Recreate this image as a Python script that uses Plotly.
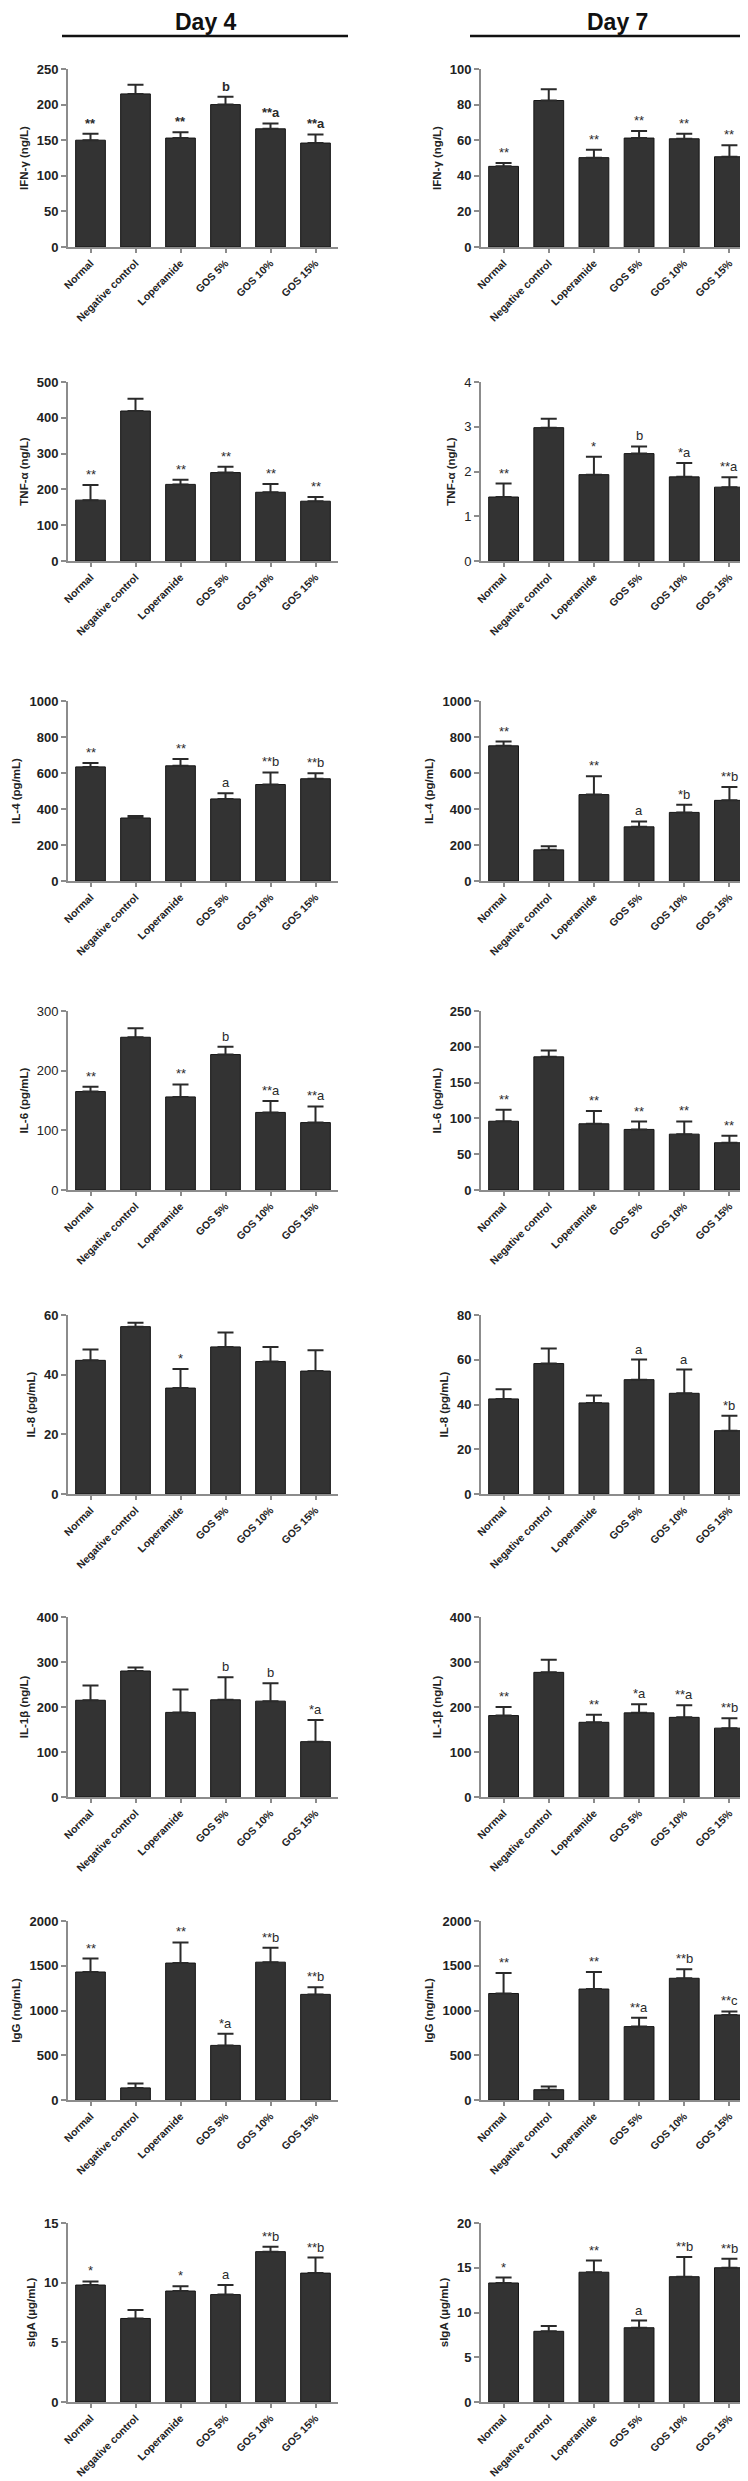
import plotly.graph_objects as go

categories = ["Normal", "Negative control", "Loperamide", "GOS 5%", "GOS 10%", "GOS 15%"]

# ---- Day 4 ----
ifn_d4 = [150, 215, 153, 200, 166, 146]
ifn_d4_err = [9, 13, 8, 11, 7.5, 12]
ifn_d4_sig = ["**", "", "**", "b", "**a", "**a"]

tnf_d4 = [170, 419, 214, 247, 192, 167]
tnf_d4_err = [42, 34, 13, 16, 23, 12]
tnf_d4_sig = ["**", "", "**", "**", "**", "**"]

il4_d4 = [634, 350, 640, 456, 536, 568]
il4_d4_err = [22, 11, 38, 31, 67, 31]
il4_d4_sig = ["**", "", "**", "a", "**b", "**b"]

il6_d4 = [165, 256, 156, 227, 130, 113]
il6_d4_err = [8, 15, 21, 13, 19, 27]
il6_d4_sig = ["**", "", "**", "b", "**a", "**a"]

il8_d4 = [44.8, 56.1, 35.5, 49.3, 44.4, 41.2]
il8_d4_err = [3.6, 1.3, 6.4, 4.8, 4.9, 7.0]
il8_d4_sig = ["", "", "*", "", "", ""]

il1b_d4 = [215, 280, 188, 216, 213, 123]
il1b_d4_err = [33, 8, 51, 50, 40, 48]
il1b_d4_sig = ["", "", "", "b", "b", "*a"]

igg_d4 = [1430, 135, 1530, 610, 1540, 1180]
igg_d4_err = [150, 50, 230, 130, 160, 80]
igg_d4_sig = ["**", "", "**", "*a", "**b", "**b"]

siga_d4 = [9.8, 7.0, 9.3, 9.0, 12.6, 10.8]
siga_d4_err = [0.3, 0.7, 0.4, 0.8, 0.4, 1.3]
siga_d4_sig = ["*", "", "*", "a", "**b", "**b"]

# ---- Day 7 ----
ifn_d7 = [45.3, 82.3, 50.2, 61.2, 60.8, 50.7]
ifn_d7_err = [1.9, 6.3, 4.5, 3.9, 2.8, 6.4]
ifn_d7_sig = ["**", "", "**", "**", "**", "**"]

tnf_d7 = [1.43, 2.98, 1.93, 2.40, 1.88, 1.65]
tnf_d7_err = [0.30, 0.20, 0.40, 0.16, 0.31, 0.22]
tnf_d7_sig = ["**", "", "*", "b", "*a", "**a"]

il4_d7 = [751, 173, 480, 301, 381, 448]
il4_d7_err = [24, 20, 102, 30, 43, 74]
il4_d7_sig = ["**", "", "**", "a", "*b", "**b"]

il6_d7 = [96, 186, 92.5, 84.6, 78, 66]
il6_d7_err = [16, 9, 17.7, 11, 17.7, 9.8]
il6_d7_sig = ["**", "", "**", "**", "**", "**"]

il8_d7 = [42.5, 58.3, 40.7, 51.1, 45.0, 28.3]
il8_d7_err = [4.3, 6.7, 3.3, 9.0, 10.6, 6.7]
il8_d7_sig = ["", "", "", "a", "a", "*b"]

il1b_d7 = [181, 277, 166, 187, 177, 153]
il1b_d7_err = [19, 28, 17, 19, 27, 22]
il1b_d7_sig = ["**", "", "**", "*a", "**a", "**b"]

igg_d7 = [1190, 115, 1240, 820, 1360, 950]
igg_d7_err = [230, 35, 190, 100, 100, 40]
igg_d7_sig = ["**", "", "**", "**a", "**b", "**c"]

siga_d7 = [13.3, 7.9, 14.5, 8.3, 14.0, 15.0]
siga_d7_err = [0.6, 0.6, 1.3, 0.8, 2.2, 1.0]
siga_d7_sig = ["*", "", "**", "a", "**b", "**b"]

y_titles = ["IFN-γ (ng/L)", "TNF-α (ng/L)", "IL-4 (pg/mL)", "IL-6 (pg/mL)",
            "IL-8 (pg/mL)", "IL-1β (ng/L)", "IgG (ng/mL)", "sIgA (µg/mL)"]
day_titles = ["Day 4", "Day 7"]

# (values, errors, significance, y max, tick step)
panels = [
    [(ifn_d4, ifn_d4_err, ifn_d4_sig, 250, 50), (ifn_d7, ifn_d7_err, ifn_d7_sig, 100, 20)],
    [(tnf_d4, tnf_d4_err, tnf_d4_sig, 500, 100), (tnf_d7, tnf_d7_err, tnf_d7_sig, 4, 1)],
    [(il4_d4, il4_d4_err, il4_d4_sig, 1000, 200), (il4_d7, il4_d7_err, il4_d7_sig, 1000, 200)],
    [(il6_d4, il6_d4_err, il6_d4_sig, 300, 100), (il6_d7, il6_d7_err, il6_d7_sig, 250, 50)],
    [(il8_d4, il8_d4_err, il8_d4_sig, 60, 20), (il8_d7, il8_d7_err, il8_d7_sig, 80, 20)],
    [(il1b_d4, il1b_d4_err, il1b_d4_sig, 400, 100), (il1b_d7, il1b_d7_err, il1b_d7_sig, 400, 100)],
    [(igg_d4, igg_d4_err, igg_d4_sig, 2000, 500), (igg_d7, igg_d7_err, igg_d7_sig, 2000, 500)],
    [(siga_d4, siga_d4_err, siga_d4_sig, 15, 5), (siga_d7, siga_d7_err, siga_d7_sig, 20, 5)],
]

# ---- styling / layout ----
W, H = 748, 2481
FONT = "Liberation Sans, Arial, sans-serif"
col_dom = [[60 / W, 330 / W], [473 / W, 744 / W]]
row_px = [(61, 239), (374, 553), (693, 873), (1003, 1182),
          (1307, 1486), (1609, 1789), (1913, 2092), (2215, 2394)]
tick_bold = [[True, True], [True, False], [True, True], [False, True],
             [True, True], [True, True], [True, True], [True, True]]
sig_bold = [[True, False], [False, False], [False, False], [False, False],
            [False, False], [False, False], [False, False], [False, False]]
AXIS_COLOR = "#8c8c8c"
BAR_COLOR = "#333333"

fig = go.Figure()
layout = dict(
    width=W, height=H, margin=dict(l=0, r=0, t=0, b=0),
    paper_bgcolor="white", plot_bgcolor="white", showlegend=False,
    font=dict(family=FONT, color="#222222"),
    bargap=0.34,
)
annotations = []
shapes = []

for r, row in enumerate(panels):
    y0 = 1 - row_px[r][1] / H
    y1 = 1 - row_px[r][0] / H
    for c, (vals, errs, sigs, ymax, dtick) in enumerate(row):
        idx = r * 2 + c + 1
        xs = "x" if idx == 1 else f"x{idx}"
        ys = "y" if idx == 1 else f"y{idx}"
        xk = "xaxis" if idx == 1 else f"xaxis{idx}"
        yk = "yaxis" if idx == 1 else f"yaxis{idx}"
        fig.add_trace(go.Bar(
            x=categories, y=vals, xaxis=xs, yaxis=ys,
            marker=dict(color=BAR_COLOR, line=dict(color="#151515", width=1)),
            error_y=dict(type="data", symmetric=False, array=errs,
                         arrayminus=[0] * len(errs), color="#2a2a2a",
                         thickness=2, width=8),
            hoverinfo="skip",
        ))
        tw = "bold" if tick_bold[r][c] else "normal"
        layout[xk] = dict(
            domain=col_dom[c], anchor=ys, type="category",
            range=[-0.5, len(categories) - 0.5],
            showline=True, linecolor=AXIS_COLOR, linewidth=2,
            ticks="outside", ticklen=4, tickwidth=1.5, tickcolor=AXIS_COLOR,
            tickangle=-45, tickfont=dict(size=10.5, family=FONT, color="#222", weight="bold"),
            showgrid=False, zeroline=False, automargin=False, fixedrange=True,
        )
        layout[yk] = dict(
            domain=[y0, y1], anchor=xs, range=[0, ymax], dtick=dtick, tick0=0,
            showline=True, linecolor=AXIS_COLOR, linewidth=2,
            ticks="outside", ticklen=5, tickwidth=1.5, tickcolor=AXIS_COLOR,
            tickfont=dict(size=13, family=FONT, color="#222", weight=tw),
            title=dict(text=y_titles[r], standoff=6,
                       font=dict(size=11.5, family=FONT, color="#222", weight="bold")),
            showgrid=False, zeroline=False, automargin=False, fixedrange=True,
        )
        sw = "bold" if sig_bold[r][c] else "normal"
        for cat, v, e, s in zip(categories, vals, errs, sigs):
            if s:
                annotations.append(dict(
                    x=cat, y=v + e, xref=xs, yref=ys, text=s, showarrow=False,
                    yanchor="bottom", xanchor="center", yshift=1,
                    font=dict(size=13, family=FONT, color="#2a2a2a", weight=sw),
                ))

# Day titles with underline
title_x = [198, 609]
line_x = [(54, 340), (462, 741)]
for i, t in enumerate(day_titles):
    annotations.append(dict(
        x=title_x[i] / W, y=1 - 14 / H, xref="paper", yref="paper", text=t,
        showarrow=False, xanchor="center", yanchor="middle",
        font=dict(size=23, family=FONT, color="#111", weight="bold"),
    ))
    shapes.append(dict(type="line", xref="paper", yref="paper",
                       x0=line_x[i][0] / W, x1=line_x[i][1] / W,
                       y0=1 - 28 / H, y1=1 - 28 / H,
                       line=dict(color="#111", width=2.5)))

layout["annotations"] = annotations
layout["shapes"] = shapes
fig.update_layout(**layout)
fig.write_html("out.html")
